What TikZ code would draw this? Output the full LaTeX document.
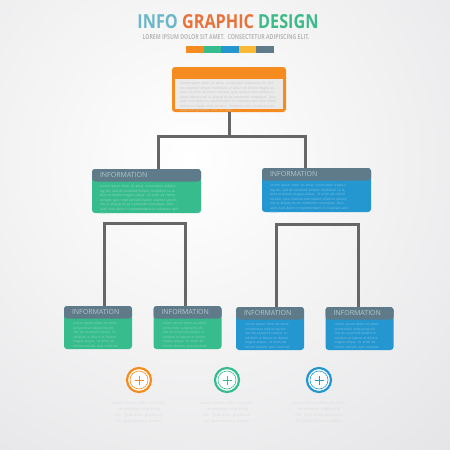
\documentclass[tikz,border=0pt]{standalone}
\usepackage{fontspec}
\setmainfont{Open Sans}
\usetikzlibrary{positioning}

\definecolor{orangeC}{HTML}{F68C1F}
\definecolor{greenC}{HTML}{37BC8D}
\definecolor{blueC}{HTML}{2597D0}
\definecolor{yellowC}{HTML}{FAB935}
\definecolor{slateC}{HTML}{5F7B89}
\definecolor{lineC}{HTML}{666666}
\definecolor{headC}{HTML}{B3C5CD}
\definecolor{panelC}{HTML}{EAEAEA}
\definecolor{infoC}{HTML}{6CB6C9}
\definecolor{graphicC}{HTML}{E8733A}
\definecolor{designC}{HTML}{3DBA8A}
\definecolor{bgC}{HTML}{DCDCDF}

\begin{document}
\begin{tikzpicture}[x=1pt,y=-1pt,
  info box/.style={rectangle,rounded corners=3pt,fill=#1,inner sep=0pt,
    path picture={\fill[slateC] (path picture bounding box.north west) rectangle ([yshift=-12.5pt]path picture bounding box.north east);}},
  big/.style={minimum width=109pt,minimum height=44pt},
  small/.style={minimum width=68pt,minimum height=43pt},
  head text/.style={font=\fontsize{7}{7}\selectfont,text=headC,anchor=west,inner sep=0pt},
  body text/.style={font=\fontsize{3.3}{4.5}\selectfont,anchor=north west,inner sep=0pt,align=left},
  connector/.style={draw=lineC,line width=3pt},
  ring/.style={circle,draw=#1,line width=2.2pt,fill=white,minimum size=24pt,inner sep=0pt,
    path picture={\draw[#1,line width=0.6pt] (path picture bounding box.center) circle (9pt);
      \draw[#1,line width=0.6pt] ([xshift=-4.5pt]path picture bounding box.center) -- ([xshift=4.5pt]path picture bounding box.center);
      \draw[#1,line width=0.6pt] ([yshift=-4.5pt]path picture bounding box.center) -- ([yshift=4.5pt]path picture bounding box.center);}},
  caption/.style={font=\fontsize{4}{6}\selectfont,text=black!13,text width=55pt,align=center,inner sep=0pt}]

  % background
  \clip (0,0) rectangle (450,450);
  \shade[inner color=white,outer color=bgC] (-330,-370) rectangle (710,690);

  % title
  \node (title) at (228,22) {\resizebox{181pt}{14pt}{\bfseries\textcolor{infoC}{INFO} \textcolor{graphicC}{GRAPHIC} \textcolor{designC}{DESIGN}}};
  \node[text=black!28] (subtitle) at (226,37.5) {\resizebox{167pt}{5pt}{\bfseries LOREM IPSUM DOLOR SIT AMET.\ \ CONSECTETUR ADIPISCING ELIT.}};
  \foreach \c [count=\i from 0] in {orangeC,greenC,blueC,yellowC,slateC}
    \fill[\c] (186+17.6*\i,46) rectangle ++(17.6,7);

  % top box
  \node[rectangle,rounded corners=3pt,fill=orangeC,minimum width=114pt,minimum height=45pt,inner sep=0pt] (top) at (229,89.5) {};
  \fill[panelC] ([xshift=3pt,yshift=-12pt]top.north west) rectangle ([xshift=-3pt,yshift=3pt]top.south east);
  \node[body text,text=black!22,text width=97pt] at ([xshift=8pt,yshift=-15pt]top.north west)
    {Lorem ipsum dolor sit amet, consectetur adipiscing elit, sed do eiusmod tempor incididunt ut labore et dolore magna aliqua. Ut enim ad minim veniam, quis nostrud exercitation ullamco laboris nisi ut aliquip ex ea commodo consequat. Duis aute irure dolor in reprehenderit in voluptate velit esse cillum dolore eu fugiat nulla pariatur. Excepteur sint occaecat cupidatat non proident, sunt in culpa.};

  % second row
  \node[info box=greenC,big] (left) at (146.5,191) {};
  \node[info box=blueC,big] (right) at (316.5,190) {};

  % third row
  \node[info box=greenC,small] (la) at (98,327.5) {};
  \node[info box=greenC,small] (lb) at (187.5,327.5) {};
  \node[info box=blueC,small] (ra) at (270,328.5) {};
  \node[info box=blueC,small] (rb) at (359.5,328.5) {};

  \foreach \n in {left,right,la,lb,ra,rb}
    \node[head text] at ([xshift=8pt,yshift=-6.5pt]\n.north west) {INFORMATION};

  \node[body text,text=white!45!greenC,text width=80pt] at ([xshift=8pt,yshift=-16pt]left.north west)
    {Lorem ipsum dolor sit amet, consectetur adipiscing elit, sed do eiusmod tempor incididunt ut labore et dolore magna aliqua. Ut enim ad minim veniam, quis nostrud exercitation ullamco laboris nisi ut aliquip ex ea commodo consequat. Duis aute irure dolor in reprehenderit in voluptate velit esse.};
  \node[body text,text=white!40!blueC,text width=80pt] at ([xshift=8pt,yshift=-16pt]right.north west)
    {Lorem ipsum dolor sit amet, consectetur adipiscing elit, sed do eiusmod tempor incididunt ut labore et dolore magna aliqua. Ut enim ad minim veniam, quis nostrud exercitation ullamco laboris nisi ut aliquip ex ea commodo consequat. Duis aute irure dolor in reprehenderit in voluptate velit esse.};
  \foreach \n/\c in {la/greenC,lb/greenC,ra/blueC,rb/blueC}
    \node[body text,text=white!40!\c,text width=46pt] at ([xshift=9pt,yshift=-16pt]\n.north west)
      {Lorem ipsum dolor sit amet, consectetur adipiscing elit. Sed do eiusmod tempor incididunt ut labore et dolore magna aliqua. Ut enim ad minim veniam, quis nostrud.};

  % connectors
  \draw[connector] (top.south) -- ++(0,24) -| ([xshift=11.5pt]left.north);
  \draw[connector] (top.south) -- ++(0,24) -| ([xshift=-11.5pt]right.north);
  \draw[connector] ([xshift=6pt]la.north) -- ++(0,-82) -| ([xshift=-2.5pt]lb.north);
  \draw[connector] ([xshift=6pt]ra.north) -- ++(0,-82) -| ([xshift=-1.5pt]rb.north);

  % icons
  \node[ring=orangeC] (c1) at (139,380) {};
  \node[ring=greenC] (c2) at (227,380) {};
  \node[ring=blueC] (c3) at (319,380) {};
  \foreach \n in {c1,c2,c3}
    \node[caption,below=8pt of \n] {Lorem ipsum dolor sit amet, consectetur adipiscing elit. Quis enim possimus hic quae dicimus autem.};
\end{tikzpicture}
\end{document}
